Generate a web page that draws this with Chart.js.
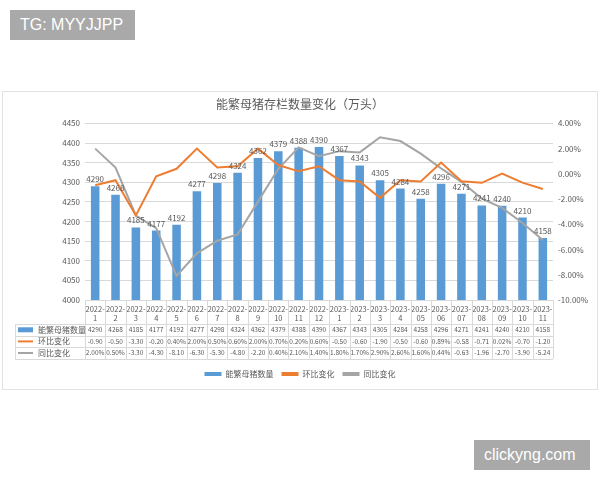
<!DOCTYPE html>
<html>
<head>
<meta charset="utf-8">
<script src="https://cdn.jsdelivr.net/npm/chart.js@4.4.1/dist/chart.umd.min.js"></script>
<style>
    body { margin: 0; width: 600px; height: 480px; background: #ffffff; position: relative; overflow: hidden; }
    .tag { position: absolute; background: #a9a9a9; color: #ffffff; font-family: "Liberation Sans", Arial, sans-serif; font-size: 16px; line-height: 30px; padding: 0 10px; }
    .tag-top { left: 10px; top: 10px; width: 105px; }
    .tag-bottom { left: 474px; top: 440px; width: 96px; }
    .panel { position: absolute; left: 2px; top: 91px; width: 596px; height: 299px; border: 1px solid #e3e3e3; box-sizing: border-box; }
    .panel canvas { display: block; }
</style>
</head>
<body>
<div class="tag tag-top">TG: MYYJJPP</div>
<div class="panel"><canvas id="sowChart" width="594" height="297"></canvas></div>
<div class="tag tag-bottom">clickyng.com</div>
<script>
const months = [
    "2022-1", "2022-2", "2022-3", "2022-4", "2022-5", "2022-6", "2022-7", "2022-8",
    "2022-9", "2022-10", "2022-11", "2022-12", "2023-1", "2023-2", "2023-3", "2023-4",
    "2023-05", "2023-06", "2023-07", "2023-08", "2023-09", "2023-10", "2023-11"
];
const sowStock = [4290, 4268, 4185, 4177, 4192, 4277, 4298, 4324, 4362, 4379, 4388, 4390,
    4367, 4343, 4305, 4284, 4258, 4296, 4271, 4241, 4240, 4210, 4158];
const momChange = [-0.90, -0.50, -3.30, -0.20, 0.40, 2.00, 0.50, 0.60, 2.00, 0.70, 0.20, 0.60,
    -0.50, -0.60, -1.90, -0.50, -0.60, 0.89, -0.58, -0.71, 0.02, -0.70, -1.20];
const yoyChange = [2.00, 0.50, -3.30, -4.30, -8.10, -6.30, -5.30, -4.80, -2.20, 0.40, 2.10, 1.40,
    1.80, 1.70, 2.90, 2.60, 1.60, 0.44, -0.63, -1.96, -2.70, -3.90, -5.24];
const leftTicks = [4000, 4450, 50];
const rightTicks = [-10, 4, 2];

const BLUE = "#5B9BD5";
const ORANGE = "#ED7D31";
const GRAY = "#A5A5A5";
const TEXT = "#595959";
const LINE = "#d9d9d9";
const FONT = '"Noto Sans CJK SC", "Noto Sans", sans-serif';

function pct(v) {
    return v >= 0 ? v.toFixed(2) + "%" : v.toFixed(2);
}

const rows = [
    { name: "能繁母猪数量", color: BLUE, key: "box", values: sowStock.map(String) },
    { name: "环比变化", color: ORANGE, key: "line", values: momChange.map(pct) },
    { name: "同比变化", color: GRAY, key: "line", values: yoyChange.map(pct) }
];

// bar value labels
const barLabels = {
    id: "barLabels",
    afterDatasetsDraw(chart) {
        const ctx = chart.ctx;
        const meta = chart.getDatasetMeta(0);
        ctx.save();
        ctx.font = "8px " + FONT;
        ctx.fillStyle = TEXT;
        ctx.textAlign = "center";
        ctx.textBaseline = "bottom";
        meta.data.forEach((bar, i) => {
            ctx.fillText(sowStock[i], bar.x, bar.y - 3);
        });
        ctx.restore();
    }
};

// data table under the x axis
const dataTable = {
    id: "dataTable",
    afterDraw(chart) {
        const { ctx, chartArea } = chart;
        const xScale = chart.scales.x;
        const top = chartArea.bottom;
        const headerBottom = top + 24;
        const rowH = 11.6;
        const bottom = headerBottom + rowH * rows.length;
        const left = 12;
        const cell = (chartArea.right - chartArea.left) / months.length;

        ctx.save();
        ctx.strokeStyle = LINE;
        ctx.lineWidth = 1;
        ctx.beginPath();
        for (let r = 0; r <= rows.length; r++) {
            const y = Math.round(headerBottom + r * rowH) + 0.5;
            ctx.moveTo(left, y);
            ctx.lineTo(chartArea.right, y);
        }
        ctx.moveTo(left + 0.5, headerBottom);
        ctx.lineTo(left + 0.5, bottom);
        for (let i = 0; i <= months.length; i++) {
            const x = Math.round(chartArea.left + i * cell) + 0.5;
            ctx.moveTo(x, top);
            ctx.lineTo(x, bottom);
        }
        ctx.stroke();

        ctx.textBaseline = "middle";
        rows.forEach((row, r) => {
            const cy = headerBottom + r * rowH + rowH / 2;
            if (row.key === "box") {
                ctx.fillStyle = row.color;
                ctx.fillRect(left + 3, cy - 2.5, 15, 5);
            } else {
                ctx.strokeStyle = row.color;
                ctx.lineWidth = 2;
                ctx.beginPath();
                ctx.moveTo(left + 3, cy);
                ctx.lineTo(left + 18, cy);
                ctx.stroke();
            }
            ctx.fillStyle = TEXT;
            ctx.textAlign = "left";
            ctx.font = "8px " + FONT;
            ctx.fillText(row.name, left + 23, cy);
            ctx.font = "6.5px " + FONT;
            ctx.textAlign = "center";
            row.values.forEach((v, i) => {
                ctx.fillText(v, xScale.getPixelForValue(i), cy);
            });
        });
        ctx.restore();
    }
};

const canvas = document.getElementById("sowChart");

new Chart(canvas, {
    data: {
        labels: months.map(m => {
            const parts = m.split("-");
            return [parts[0] + "-", parts[1]];
        }),
        datasets: [
            {
                type: "bar",
                label: "能繁母猪数量",
                data: sowStock,
                yAxisID: "y",
                backgroundColor: BLUE,
                categoryPercentage: 1,
                barPercentage: 0.42,
                order: 1
            },
            {
                type: "line",
                label: "环比变化",
                data: momChange,
                yAxisID: "y1",
                borderColor: ORANGE,
                backgroundColor: ORANGE,
                borderWidth: 2,
                pointRadius: 0,
                tension: 0,
                order: 0
            },
            {
                type: "line",
                label: "同比变化",
                data: yoyChange,
                yAxisID: "y1",
                borderColor: GRAY,
                backgroundColor: GRAY,
                borderWidth: 2,
                pointRadius: 0,
                tension: 0,
                order: 0
            }
        ]
    },
    options: {
        responsive: false,
        animation: false,
        layout: { padding: { top: 0, right: 0, bottom: 1, left: 0 } },
        plugins: {
            title: {
                display: true,
                text: "能繁母猪存栏数量变化（万头）",
                color: TEXT,
                font: { family: FONT, size: 12, weight: "normal" },
                padding: { top: 5, bottom: 12 }
            },
            legend: {
                position: "bottom",
                labels: {
                    color: TEXT,
                    font: { family: FONT, size: 8 },
                    boxWidth: 17,
                    boxHeight: 4,
                    padding: 8,
                    sort: (a, b) => a.datasetIndex - b.datasetIndex,
                    generateLabels: chart => Chart.defaults.plugins.legend.labels.generateLabels(chart)
                        .map(item => ({ ...item, lineWidth: 0 }))
                }
            },
            tooltip: { enabled: false }
        },
        scales: {
            x: {
                grid: { display: false, drawTicks: false },
                border: { display: true, color: LINE },
                ticks: {
                    color: TEXT,
                    font: { family: FONT, size: 7.5 },
                    maxRotation: 0,
                    autoSkip: false,
                    padding: 5
                },
                afterFit: scale => { scale.height = 62; }
            },
            y: {
                position: "left",
                min: leftTicks[0],
                max: leftTicks[1],
                grid: { color: LINE, drawTicks: false },
                border: { display: false },
                ticks: {
                    stepSize: leftTicks[2],
                    color: TEXT,
                    font: { family: FONT, size: 8 },
                    padding: 5,
                    callback: v => String(v)
                },
                afterFit: scale => { scale.width = 82; }
            },
            y1: {
                position: "right",
                min: rightTicks[0],
                max: rightTicks[1],
                grid: { display: false, drawTicks: false },
                border: { display: false },
                ticks: {
                    stepSize: rightTicks[2],
                    color: TEXT,
                    font: { family: FONT, size: 8 },
                    padding: 5,
                    callback: v => v.toFixed(2) + "%"
                },
                afterFit: scale => { scale.width = 44; }
            }
        }
    },
    plugins: [barLabels, dataTable]
});
</script>
</body>
</html>
